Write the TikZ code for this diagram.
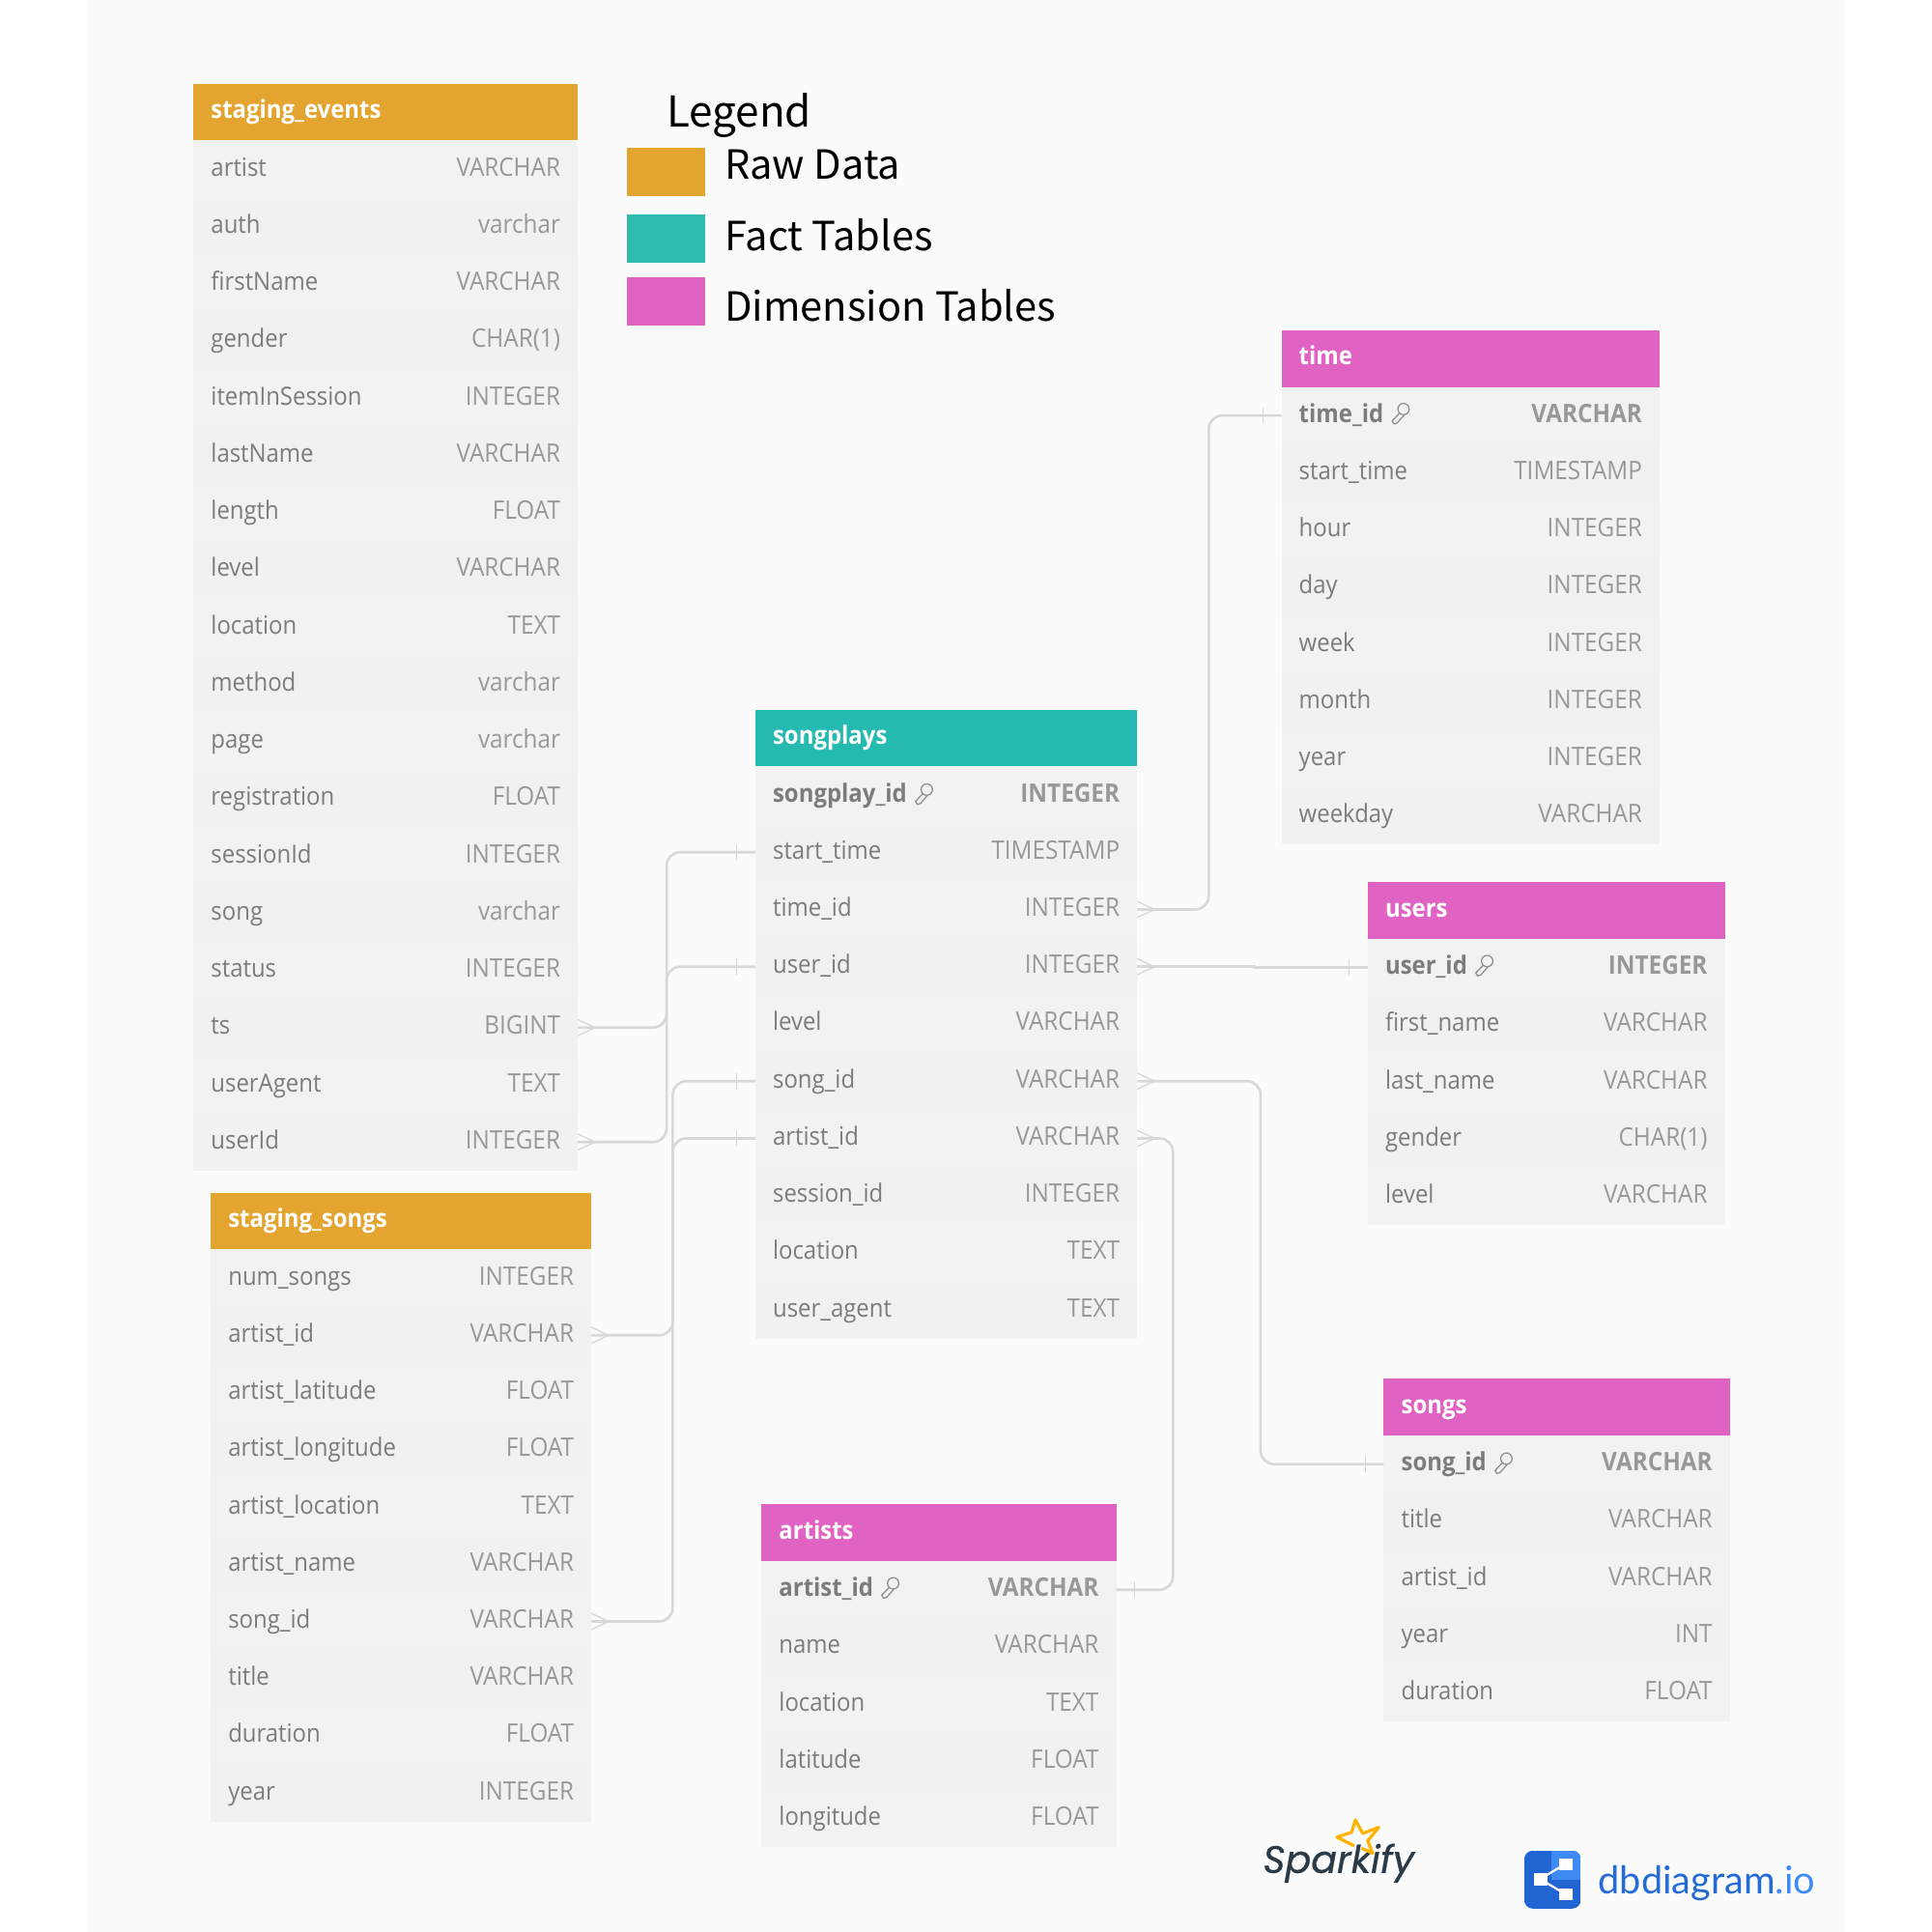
\documentclass[tikz,border=0pt]{standalone}
\usepackage{fontspec}
\setmainfont[FakeStretch=0.92]{Open Sans}
\newfontfamily\legendfont{Noto Sans CJK SC}
\newfontfamily\sparkfont[ItalicFeatures={FakeBold=0.7}]{Poppins}
\newfontfamily\dbfont{Lato}
\usetikzlibrary{calc}
\definecolor{panelbg}{HTML}{FBFBFB}
\definecolor{rowa}{HTML}{F2F2F2}
\definecolor{rowb}{HTML}{F1F1F1}
\definecolor{rawc}{HTML}{E3A52F}
\definecolor{factc}{HTML}{24BAAF}
\definecolor{dimc}{HTML}{E063C3}
\definecolor{legfact}{HTML}{2EBBB0}
\definecolor{namec}{HTML}{7C7C7C}
\definecolor{typec}{HTML}{989898}
\definecolor{linec}{HTML}{D8D8D8}
\definecolor{sparkc}{HTML}{2B3A47}
\definecolor{stargold}{HTML}{FFB300}
\definecolor{dbdark}{HTML}{2065D1}
\definecolor{dblight}{HTML}{3F8BF5}
\tikzset{
  x=1.27551pt,y=-1.27551pt,
  rowbox/.style={inner sep=0pt,outer sep=0pt,draw=none,anchor=north west},
  headbox/.style={rowbox},
  headtext/.style={inner sep=0pt,anchor=base west,text=white,font=\fontsize{26}{26}\selectfont\bfseries},
  nametext/.style={inner sep=0pt,anchor=base west,text=namec,font=\fontsize{26}{26}\selectfont},
  typetext/.style={inner sep=0pt,anchor=base east,text=typec,font=\fontsize{26.4}{26.4}\selectfont},
  conn/.style={draw=linec,line width=2.6pt,rounded corners=14pt},
  endmark/.style={draw=linec,line width=1.4pt},
  keymark/.style={draw=namec!85,line width=1.3pt},
  legendbox/.style={inner sep=0pt,outer sep=0pt,anchor=north west},
  legendtext/.style={inner sep=0pt,anchor=base west,text=black,font=\legendfont\fontsize{41.6}{42}\selectfont},
}
% prefix, x1, x2, ytop, colour, title, key(0/1), rows
\newcommand{\dbtable}[8]{%
  \pgfmathsetlengthmacro{\tw}{(#3-#2)*1.27551}%
  \pgfmathsetlengthmacro{\hh}{46*1.27551}%
  \pgfmathsetlengthmacro{\rh}{46.45*1.27551}%
  \node[headbox,fill=#5,minimum width=\tw,minimum height=\hh] (#1-h) at (#2,#4) {};
  \node[headtext] (#1-title) at ([xshift=18pt,yshift=-6.5pt]#1-h.west) {#6};
  \foreach \rn/\rt [count=\i] in {#8}{%
    \pgfmathsetmacro{\ry}{#4+46+(\i-1)*46.45}%
    \ifodd\i\def\rc{rowa}\else\def\rc{rowb}\fi
    \def\rf{}\ifnum\i=1\ifnum#7=1\def\rf{\bfseries}\fi\fi
    \node[rowbox,fill=\rc,minimum width=\tw,minimum height=\rh] (#1-\i) at (#2,\ry) {};
    \node[nametext] (#1-\i-n) at ([xshift=18pt,yshift=-7pt]#1-\i.west) {\rf\rn};
    \node[typetext] (#1-\i-t) at ([xshift=-18pt,yshift=-7pt]#1-\i.east) {\rf\rt};
  }%
  \ifnum#7=1
    \draw[keymark,shift={(#1-1-n.east)}] (16,-4.6) circle[radius=4.6]
      (13,-1.5) -- (6.8,5) -- (8.2,7.4) -- (10.8,6.7) -- (16.5,0.3);
  \fi
}
\newcommand{\crowend}[1]{\draw[endmark,shift={(#1)}] (0,6.5) -- (14,0) -- (0,-6.5) (0,0) -- (14,0);}
\newcommand{\tickend}[2]{\draw[endmark,shift={(#1)}] (#2,6.5) -- (#2,-6.5);}
\begin{document}
\begin{tikzpicture}
\useasboundingbox (0,0) rectangle (1568,1568);
\fill[white] (0,0) rectangle (1568,1568);
\fill[panelbg] (70,0) rectangle (1497,1568);

\dbtable{se}{157}{469}{68}{rawc}{staging\_events}{0}{artist/VARCHAR,auth/varchar,firstName/VARCHAR,gender/CHAR(1),itemInSession/INTEGER,lastName/VARCHAR,length/FLOAT,level/VARCHAR,location/TEXT,method/varchar,page/varchar,registration/FLOAT,sessionId/INTEGER,song/varchar,status/INTEGER,ts/BIGINT,userAgent/TEXT,userId/INTEGER}
\dbtable{ss}{171}{480}{968}{rawc}{staging\_songs}{0}{num\_songs/INTEGER,artist\_id/VARCHAR,artist\_latitude/FLOAT,artist\_longitude/FLOAT,artist\_location/TEXT,artist\_name/VARCHAR,song\_id/VARCHAR,title/VARCHAR,duration/FLOAT,year/INTEGER}
\dbtable{sp}{613}{923}{576}{factc}{songplays}{1}{songplay\_id/INTEGER,start\_time/TIMESTAMP,time\_id/INTEGER,user\_id/INTEGER,level/VARCHAR,song\_id/VARCHAR,artist\_id/VARCHAR,session\_id/INTEGER,location/TEXT,user\_agent/TEXT}
\dbtable{ti}{1040}{1347}{268}{dimc}{time}{1}{time\_id/VARCHAR,start\_time/TIMESTAMP,hour/INTEGER,day/INTEGER,week/INTEGER,month/INTEGER,year/INTEGER,weekday/VARCHAR}
\dbtable{us}{1110}{1400}{716}{dimc}{users}{1}{user\_id/INTEGER,first\_name/VARCHAR,last\_name/VARCHAR,gender/CHAR(1),level/VARCHAR}
\dbtable{so}{1123}{1404}{1119}{dimc}{songs}{1}{song\_id/VARCHAR,title/VARCHAR,artist\_id/VARCHAR,year/INT,duration/FLOAT}
\dbtable{ar}{618}{906}{1221}{dimc}{artists}{1}{artist\_id/VARCHAR,name/VARCHAR,location/TEXT,latitude/FLOAT,longitude/FLOAT}

% connectors
\draw[conn] (se-16.east) -| (541,0 |- sp-2.west) -- (sp-2.west);
\draw[conn] (se-18.east) -| (541,0 |- sp-4.west) -- (sp-4.west);
\draw[conn] (ss-2.east) -| (546,0 |- sp-7.west) -- (sp-7.west);
\draw[conn] (ss-7.east) -| (546,0 |- sp-6.west) -- (sp-6.west);
\draw[conn] (sp-3.east) -| (981,0 |- ti-1.west) -- (ti-1.west);
\draw[conn,rounded corners=0pt] (sp-4.east) -| (1018,0 |- us-1.west) -- (us-1.west);
\draw[conn] (sp-6.east) -| (1023,0 |- so-1.west) -- (so-1.west);
\draw[conn] (sp-7.east) -| (952,0 |- ar-1.east) -- (ar-1.east);
% connector ends
\crowend{se-16.east}\crowend{se-18.east}\crowend{ss-2.east}\crowend{ss-7.east}
\crowend{sp-3.east}\crowend{sp-4.east}\crowend{sp-6.east}\crowend{sp-7.east}
\tickend{sp-2.west}{-15}\tickend{sp-4.west}{-15}\tickend{sp-6.west}{-15}\tickend{sp-7.west}{-15}
\tickend{ti-1.west}{-15}\tickend{us-1.west}{-15}\tickend{so-1.west}{-15}\tickend{ar-1.east}{15}

% legend
\node[inner sep=0pt,anchor=base west,text=black,font=\legendfont\fontsize{44}{44}\selectfont] (legtitle) at (541,103) {Legend};
\pgfmathsetlengthmacro{\lw}{63*1.27551}\pgfmathsetlengthmacro{\lh}{39*1.27551}
\node[legendbox,fill=rawc,minimum width=\lw,minimum height=\lh] (lraw) at (509,120) {};
\node[legendbox,fill=legfact,minimum width=\lw,minimum height=\lh] (lfact) at (509,174) {};
\node[legendbox,fill=dimc,minimum width=\lw,minimum height=\lh] (ldim) at (509,225) {};
\node[legendtext] (lrawt) at (588,145.5) {Raw Data};
\node[legendtext] (lfactt) at (588,203.5) {Fact Tables};
\node[legendtext] (ldimt) at (588,260.5) {Dimension Tables};

% Sparkify logo
\node[inner sep=0pt,anchor=base west,text=sparkc,font=\sparkfont\fontsize{39.5}{40}\selectfont\itshape] (sparkify) at (1025,1520) {Sparkify};
\draw[stargold,line width=3.2pt,line join=round] (1099,1498) -- (1085,1491) -- (1097,1487) -- (1100,1477) -- (1106,1488) -- (1119,1483) -- (1110,1494) -- (1114,1504) -- (1105,1500);

% dbdiagram logo
\begin{scope}
  \clip[rounded corners=9pt] (1237,1502) rectangle (1283,1549);
  \fill[dbdark] (1237,1502) rectangle (1283,1549);
  \fill[dblight] (1259,1502) rectangle (1283,1526);
\end{scope}
\draw[white,line width=2.2pt] (1250,1525) -- (1270,1513) (1250,1525) -- (1270,1537);
\fill[white] (1245,1520.5) rectangle (1256,1530);
\fill[white] (1265,1508.5) rectangle (1276,1517.5);
\fill[white] (1265,1533) rectangle (1276,1542);
\node[inner sep=0pt,anchor=base west,text=dbdark!85!dblight,font=\dbfont\fontsize{39.7}{40}\selectfont] (dbname) at (1297,1537) {dbdiagram\textcolor{dblight}{.io}};
\end{tikzpicture}
\end{document}
